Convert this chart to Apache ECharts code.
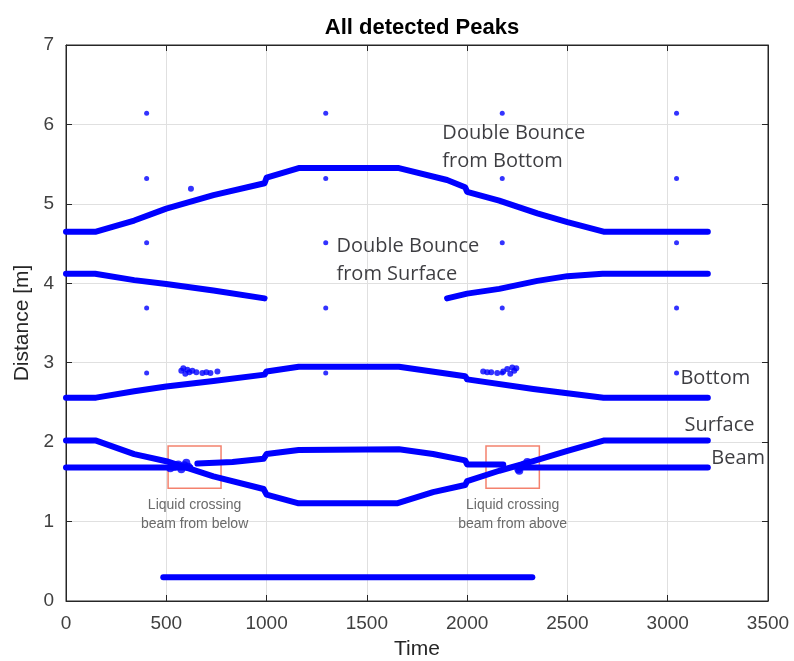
<!DOCTYPE html>
<html>
<head>
<meta charset="utf-8">
<script src="https://cdn.jsdelivr.net/npm/echarts@6/dist/echarts.min.js"></script>
<style>
	html, body { margin: 0; padding: 0; background: #fff; }
	#chart { width: 794px; height: 661px; }
</style>
</head>
<body>
<div id="chart"></div>
<script>
// x ticks / y ticks
var xTicks = [0, 500, 1000, 1500, 2000, 2500, 3000, 3500];
var yTicks = [0, 1, 2, 3, 4, 5, 6, 7];

// traced peak tracks [time, distance]
var dblBottom = [[0, 4.65], [150, 4.65], [340, 4.79], [500, 4.94], [735, 5.11], [990, 5.26], [1000, 5.33], [1160, 5.45], [1660, 5.45], [1900, 5.30], [1990, 5.21], [2000, 5.15], [2160, 5.04], [2350, 4.88], [2500, 4.77], [2680, 4.65], [3200, 4.65]];
var dblSurfaceL = [[0, 4.12], [145, 4.12], [340, 4.04], [500, 3.99], [735, 3.91], [990, 3.81]];
var dblSurfaceR = [[1900, 3.81], [2000, 3.87], [2160, 3.93], [2350, 4.03], [2500, 4.09], [2675, 4.12], [3200, 4.12]];
var bottomLine = [[0, 2.56], [150, 2.56], [340, 2.64], [500, 2.70], [735, 2.77], [990, 2.85], [1000, 2.89], [1160, 2.95], [1660, 2.95], [1990, 2.83], [2000, 2.79], [2330, 2.67], [2680, 2.56], [3200, 2.56]];
var surfaceLine = [[0, 2.02], [150, 2.02], [340, 1.85], [500, 1.76], [735, 1.57], [985, 1.41], [1000, 1.34], [1160, 1.23], [1650, 1.23], [1830, 1.37], [1990, 1.46], [2000, 1.51], [2160, 1.64], [2330, 1.76], [2500, 1.89], [2680, 2.02], [3200, 2.02]];
var upperMid = [[655, 1.73], [830, 1.75], [985, 1.79], [1000, 1.85], [1160, 1.90], [1660, 1.91], [1830, 1.85], [1990, 1.77], [2000, 1.72], [2180, 1.72]];
var beamL = [[0, 1.68], [620, 1.68]];
var beamR = [[2255, 1.68], [3200, 1.68]];
var lowLine = [[485, 0.30], [2325, 0.30]];

// isolated detections
var dotTimes = [402, 1295, 2175, 3044];
var dotLevels = [6.14, 5.32, 4.51, 3.69, 2.87];
var strayDots = [[623, 5.19]];

// clusters of detections
var clusterBottomL = [[575, 2.90], [585, 2.93], [595, 2.86], [605, 2.91], [615, 2.88], [630, 2.90], [650, 2.88], [680, 2.87], [700, 2.88], [720, 2.87], [755, 2.89]];
var clusterBottomR = [[2080, 2.89], [2100, 2.88], [2120, 2.88], [2150, 2.87], [2180, 2.89], [2200, 2.92], [2215, 2.86], [2225, 2.94], [2235, 2.90], [2245, 2.93]];
var clusterCrossL = [[520, 1.67], [540, 1.69], [560, 1.72], [575, 1.66], [590, 1.71], [600, 1.74], [610, 1.69]];
var clusterCrossR = [[2255, 1.66], [2260, 1.64], [2270, 1.70], [2285, 1.72], [2300, 1.75]];

// crossing boxes [x0, y0, x1, y1, label]
var boxes = [
	[509, 1.95, 773, 1.42, 'Liquid crossing\nbeam from below'],
	[2094, 1.95, 2360, 1.42, 'Liquid crossing\nbeam from above']
];

// annotations [x, y, text]
var notes = [
	[1874, 5.71, 'Double Bounce\nfrom Bottom'],
	[1346, 4.29, 'Double Bounce\nfrom Surface'],
	[3061, 2.81, 'Bottom'],
	[3081, 2.21, 'Surface'],
	[3215, 1.80, 'Beam']
];

var blue = '#0000ff';
var axisColor = '#262626';
var tickFont = 'Liberation Sans, Arial, sans-serif';

function lineSeries(data) {
	return {
		type: 'line',
		data: data,
		showSymbol: false,
		symbol: 'none',
		silent: true,
		lineStyle: { color: blue, width: 6, cap: 'round', join: 'round' },
		z: 3
	};
}

function dotSeries(data, size) {
	return {
		type: 'scatter',
		data: data,
		symbolSize: size,
		silent: true,
		itemStyle: { color: blue },
		z: 4
	};
}

function plainNum(v) {
	return String(v);
}

var isoDots = [];
for (var i = 0; i < dotTimes.length; i++) {
	for (var j = 0; j < dotLevels.length; j++) {
		isoDots.push([dotTimes[i], dotLevels[j]]);
	}
}

var chart = echarts.init(document.getElementById('chart'));

var series = [
	lineSeries(dblBottom),
	lineSeries(dblSurfaceL),
	lineSeries(dblSurfaceR),
	lineSeries(bottomLine),
	lineSeries(surfaceLine),
	lineSeries(upperMid),
	lineSeries(beamL),
	lineSeries(beamR),
	lineSeries(lowLine),
	dotSeries(isoDots, 5),
	dotSeries(strayDots, 6),
	dotSeries(clusterBottomL, 6),
	dotSeries(clusterBottomR, 6),
	dotSeries(clusterCrossL, 8),
	dotSeries(clusterCrossR, 8)
];

// boxes
series.push({
	type: 'line',
	data: [],
	silent: true,
	markArea: {
		silent: true,
		itemStyle: { color: 'rgba(0,0,0,0)', borderColor: '#f4826e', borderWidth: 1.5 },
		label: {
			show: true,
			position: 'bottom',
			distance: 7,
			color: '#6a6a6a',
			fontSize: 14,
			lineHeight: 19,
			fontFamily: tickFont
		},
		data: boxes.map(function(b) {
			return [{ coord: [b[0], b[1]], name: b[4] }, { coord: [b[2], b[3]] }];
		})
	}
});

// text notes
series.push({
	type: 'scatter',
	data: notes,
	symbolSize: 1,
	silent: true,
	itemStyle: { color: 'rgba(0,0,0,0)' },
	label: {
		show: true,
		position: 'right',
		distance: 0,
		formatter: function(p) { return p.data[2]; },
		color: '#0d0d12',
		fontSize: 20,
		lineHeight: 28,
		fontFamily: 'Open Sans, sans-serif'
	},
	z: 6
});

var option = {
	animation: false,
	title: {
		text: 'All detected Peaks',
		left: 417,
		textAlign: 'center',
		top: 12,
		textStyle: { fontSize: 22, fontWeight: 'bold', color: '#000', fontFamily: tickFont }
	},
	grid: {
		left: 66, right: 26, top: 45, bottom: 60,
		outerBoundsMode: 'none',
		show: true, borderColor: axisColor, borderWidth: 1, backgroundColor: '#fff'
	},
	xAxis: [{
		type: 'value',
		min: xTicks[0],
		max: xTicks[xTicks.length - 1],
		interval: xTicks[1] - xTicks[0],
		position: 'bottom',
		name: 'Time',
		nameLocation: 'middle',
		nameGap: 38,
		nameTextStyle: { fontSize: 21, color: axisColor, fontFamily: tickFont },
		axisLine: { show: true, onZero: false, lineStyle: { color: axisColor } },
		axisTick: { show: true, inside: true, length: 6, lineStyle: { color: axisColor } },
		axisLabel: { fontSize: 19, color: '#404040', margin: 13, fontFamily: tickFont, formatter: plainNum },
		splitLine: { show: true, lineStyle: { color: '#e0e0e0' } }
	}, {
		type: 'value',
		min: xTicks[0],
		max: xTicks[xTicks.length - 1],
		interval: xTicks[1] - xTicks[0],
		position: 'top',
		axisLine: { show: true, onZero: false, lineStyle: { color: axisColor } },
		axisTick: { show: true, inside: true, length: 6, lineStyle: { color: axisColor } },
		axisLabel: { show: false },
		splitLine: { show: false }
	}],
	yAxis: [{
		type: 'value',
		min: yTicks[0],
		max: yTicks[yTicks.length - 1],
		interval: yTicks[1] - yTicks[0],
		position: 'left',
		name: 'Distance [m]',
		nameLocation: 'middle',
		nameGap: 29,
		nameTextStyle: { fontSize: 21, color: axisColor, fontFamily: tickFont },
		axisLine: { show: true, onZero: false, lineStyle: { color: axisColor } },
		axisTick: { show: true, inside: true, length: 6, lineStyle: { color: axisColor } },
		axisLabel: { fontSize: 19, color: '#404040', margin: 12, fontFamily: tickFont, formatter: plainNum },
		splitLine: { show: true, lineStyle: { color: '#e0e0e0' } }
	}, {
		type: 'value',
		min: yTicks[0],
		max: yTicks[yTicks.length - 1],
		interval: yTicks[1] - yTicks[0],
		position: 'right',
		axisLine: { show: true, onZero: false, lineStyle: { color: axisColor } },
		axisTick: { show: true, inside: true, length: 6, lineStyle: { color: axisColor } },
		axisLabel: { show: false },
		splitLine: { show: false }
	}],
	series: series
};
chart.setOption(option);
</script>
</body>
</html>
